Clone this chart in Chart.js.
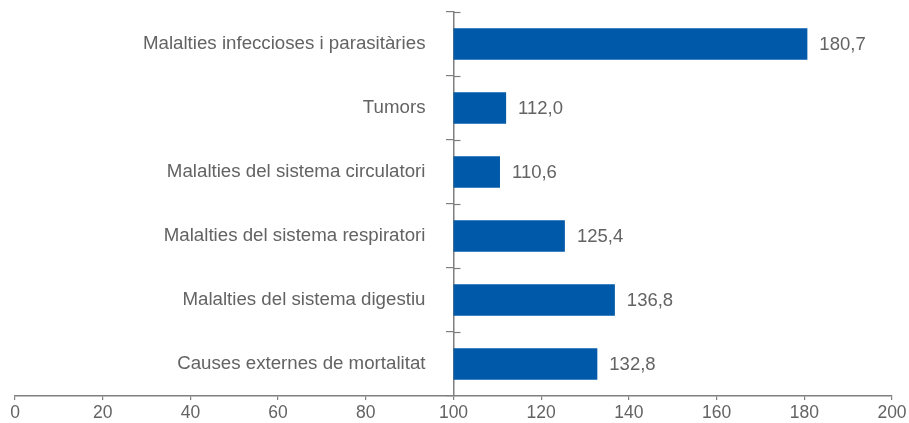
<!DOCTYPE html>
<html>
<head>
<meta charset="utf-8">
<script src="https://cdn.jsdelivr.net/npm/chart.js@4"></script>
<style>
  html, body { margin: 0; padding: 0; background: #fff; }
  #wrap { width: 909px; height: 423px; }
</style>
</head>
<body>
<div id="wrap"><canvas id="myChart"></canvas></div>
<script>
const categories = [
  "Malalties infeccioses i parasitàries",
  "Tumors",
  "Malalties del sistema circulatori",
  "Malalties del sistema respiratori",
  "Malalties del sistema digestiu",
  "Causes externes de mortalitat"
];
const valors = [180.7, 112.0, 110.6, 125.4, 136.8, 132.8];
const base = 100;
const xTicks = [0, 20, 40, 60, 80, 100, 120, 140, 160, 180, 200];

const gris = "#636363";
const liniaGris = "#7f7f7f";

// etiquetes de valor a la dreta de cada barra
const etiquetes = {
  id: "etiquetes",
  afterDatasetsDraw(chart) {
    const c = chart.ctx;
    const meta = chart.getDatasetMeta(0);
    c.save();
    c.font = "18.5px 'Liberation Sans', Arial, sans-serif";
    c.fillStyle = gris;
    c.textAlign = "left";
    c.textBaseline = "middle";
    meta.data.forEach((bar, i) => {
      c.fillText(valors[i].toFixed(1).replace(".", ","), bar.x + 12, bar.y + 1);
    });
    c.restore();
  }
};

// part dreta de les marques de l'eix vertical
const creus = {
  id: "creus",
  afterDraw(chart) {
    const c = chart.ctx;
    const y = chart.scales.y;
    const x0 = chart.scales.x.getPixelForValue(base);
    const pas = (y.bottom - y.top) / categories.length;
    c.save();
    c.strokeStyle = liniaGris;
    c.lineWidth = 1.2;
    for (let i = 0; i < categories.length; i++) {
      const py = Math.round(y.top + i * pas) + 0.5;
      c.beginPath();
      c.moveTo(x0, py);
      c.lineTo(x0 + 7, py);
      c.stroke();
    }
    c.restore();
  }
};

const senseMarges = (s) => {
  s.paddingTop = 0;
  s.paddingBottom = 0;
  s.paddingLeft = 0;
  s.paddingRight = 0;
};

const ctx = document.getElementById("myChart");
new Chart(ctx, {
  type: "bar",
  data: {
    labels: categories,
    datasets: [{
      data: valors.map(v => [base, v]),
      backgroundColor: "#005aa9",
      borderWidth: 0,
      barPercentage: 0.49,
      categoryPercentage: 1
    }]
  },
  options: {
    indexAxis: "y",
    responsive: true,
    maintainAspectRatio: false,
    animation: false,
    layout: { padding: { left: 15, right: 17, top: 12, bottom: 0 } },
    plugins: {
      legend: { display: false },
      tooltip: { enabled: false }
    },
    scales: {
      x: {
        type: "linear",
        min: 0,
        max: 200,
        afterBuildTicks: (s) => { s.ticks = xTicks.map(v => ({ value: v })); },
        afterFit: (s) => { s.height = 27; senseMarges(s); },
        grid: { drawOnChartArea: false, tickLength: 4, color: liniaGris, lineWidth: 1.2 },
        border: { color: liniaGris, width: 1.5 },
        ticks: {
          color: gris,
          padding: 3,
          maxRotation: 0,
          font: { family: "'Liberation Sans', Arial, sans-serif", size: 17.5 }
        }
      },
      y: {
        position: { x: base },
        afterFit: senseMarges,
        grid: { drawOnChartArea: false, offset: true, tickLength: 7, color: liniaGris, lineWidth: 1.2 },
        border: { color: liniaGris, width: 1.5 },
        ticks: {
          color: gris,
          // l'eix centrat no aplica el padding, així que s'afegeix espai al final
          callback: (v, i) => categories[i] + "\u2002\u2002\u2002",
          font: { family: "'Liberation Sans', Arial, sans-serif", size: 18.7 }
        }
      }
    }
  },
  plugins: [etiquetes, creus]
});
</script>
</body>
</html>
